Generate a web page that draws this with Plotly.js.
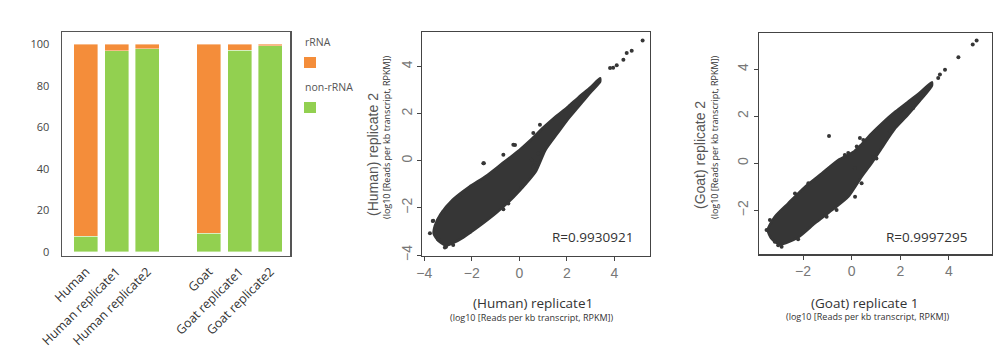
<!DOCTYPE html>
<html>
<head>
<meta charset="utf-8">
<script src="https://cdn.plot.ly/plotly-3.0.1.min.js"></script>
<style>html,body{margin:0;padding:0;background:#fff;}#chart{width:1000px;height:353px;}</style>
</head>
<body>
<div id="chart"></div>
<script>
// ---------- Bar chart data ----------
const humanSamples = ['Human', 'Human replicate1', 'Human replicate2'];
const goatSamples = ['Goat', 'Goat replicate1', 'Goat replicate2'];
const nonRRNA = [7.5, 96.9, 97.7, 9.0, 97.1, 99.2];
const rRNA = [92.5, 3.1, 2.3, 91.0, 2.9, 0.8];
const legendNames = ['rRNA', 'non-rRNA'];

// ---------- Scatter 1 (Human) : dense cloud outline + isolated points ----------
const humanCloudX = [3.4, 3.0, 2.5, 2.0, 1.5, 1.0, 0.5, 0.0, -0.7, -1.4, -2.1, -2.8, -3.3, -3.55, -3.6,
  -3.4, -3.1, -2.8, -2.35, -1.65, -0.95, -0.25, 0.3, 0.7, 1.1, 1.6, 2.0, 2.5, 3.0, 3.4];
const humanCloudY = [3.5, 3.12, 2.7, 2.25, 1.85, 1.4, 0.9, 0.45, -0.1, -0.65, -1.1, -1.65, -2.25, -2.75, -3.1,
  -3.4, -3.6, -3.5, -3.25, -2.75, -2.2, -1.55, -0.95, -0.45, 0.45, 1.15, 1.7, 2.3, 2.9, 3.35];
const humanPtsX = [5.19, 4.73, 4.52, 4.38, 3.82, 3.95, 4.1, 2.13, 0.87, 0.59, -0.25, -0.67, 0.52, 0.73,
  -3.62, -3.76, -3.41, -3.13, -2.78, -2.07, -1.51, -0.67, -0.46, 0.1, 0.66, 0.8, -3.2, -2.49, -0.18, -1.49, 0.59, -3.64, -3.08];
const humanPtsY = [5.1, 4.67, 4.57, 4.29, 3.94, 3.95, 4.05, 2.31, 1.53, 1.18, 0.68, 0.25, 0.04, -0.1,
  -2.55, -3.08, -3.34, -3.68, -3.58, -3.01, -0.11, -2.06, -1.81, -1.1, -0.18, 0.31, -2.17, -1.53, 0.67, -0.11, -0.25, -2.56, -3.65];
const humanR = 'R=0.9930921';

// ---------- Scatter 2 (Goat) ----------
const goatCloudX = [3.3, 2.8, 2.3, 1.8, 1.3, 0.8, 0.4, 0.1, -0.55, -1.23, -1.92, -2.61, -3.16, -3.45,
  -3.3, -2.95, -2.2, -1.51, -0.82, -0.14, 0.41, 0.82, 1.3, 1.8, 2.3, 2.8, 3.3];
const goatCloudY = [3.45, 3.0, 2.6, 2.2, 1.75, 1.25, 0.8, 0.5, 0.14, -0.43, -1.0, -1.7, -2.27, -2.84,
  -3.2, -3.45, -3.15, -2.55, -2.0, -1.42, -0.57, 0.0, 0.75, 1.5, 2.05, 2.65, 3.3];
const goatPtsX = [5.14, 4.98, 4.39, 3.84, 3.63, 3.56, 2.53, -0.93, 0.34, 0.48, 1.16, 1.58, 0.89, 1.02, -0.14, 0.21,
  -3.5, -3.36, -3.16, -3.02, -2.88, -2.2, -2.33, -1.78, -1.03, -0.62, 0.14, 0.41, 0.14, -0.28];
const goatPtsY = [5.22, 5.05, 4.51, 3.98, 3.78, 3.63, 2.35, 1.16, 1.08, 0.99, 1.5, 1.36, 0.26, 0.2, 0.44, 0.72,
  -2.84, -2.41, -3.34, -3.48, -3.55, -3.23, -1.28, -0.85, -2.27, -1.99, -1.42, -0.85, -0.21, 0.35];
const goatR = 'R=0.9997295';

// ---------- Build ----------
const categories = humanSamples.concat(goatSamples);
const positions = [];
[humanSamples, goatSamples].forEach((g, gi) => g.forEach((_, i) => positions.push(gi * (humanSamples.length + 1) + i)));

const orange = '#f48d3a', green = '#92d050', dot = '#363636';

const traces = [
  {type: 'bar', x: positions, y: nonRRNA, name: legendNames[1], marker: {color: green, line: {color: 'rgba(255,255,255,0.5)', width: 0.8}}, width: 0.78, xaxis: 'x', yaxis: 'y', showlegend: false, hoverinfo: 'skip'},
  {type: 'bar', x: positions, y: rRNA, name: legendNames[0], marker: {color: orange, line: {color: 'rgba(255,255,255,0.5)', width: 0.8}}, width: 0.78, xaxis: 'x', yaxis: 'y', showlegend: false, hoverinfo: 'skip'},
  {type: 'scatter', mode: 'lines', x: humanCloudX.concat([humanCloudX[0]]), y: humanCloudY.concat([humanCloudY[0]]), fill: 'toself', fillcolor: dot, line: {color: dot, width: 2.5, shape: 'spline', smoothing: 0.6}, xaxis: 'x2', yaxis: 'y2', showlegend: false},
  {type: 'scatter', mode: 'markers', x: humanPtsX, y: humanPtsY, marker: {color: dot, size: 4}, xaxis: 'x2', yaxis: 'y2', showlegend: false},
  {type: 'scatter', mode: 'lines', x: goatCloudX.concat([goatCloudX[0]]), y: goatCloudY.concat([goatCloudY[0]]), fill: 'toself', fillcolor: dot, line: {color: dot, width: 2.5, shape: 'spline', smoothing: 0.6}, xaxis: 'x3', yaxis: 'y3', showlegend: false},
  {type: 'scatter', mode: 'markers', x: goatPtsX, y: goatPtsY, marker: {color: dot, size: 4}, xaxis: 'x3', yaxis: 'y3', showlegend: false}
];

const scAxis = {showline: true, mirror: true, linecolor: '#444', linewidth: 1.2, ticks: 'outside', ticklen: 4, tickcolor: '#444',
  showgrid: false, zeroline: false, tickfont: {family: 'Liberation Sans, Arial', size: 14, color: '#777'}, dtick: 2, tick0: 0};

const layout = {
  width: 1000, height: 353, margin: {l: 0, r: 0, t: 0, b: 0},
  paper_bgcolor: '#fff', plot_bgcolor: '#fff', barmode: 'stack', bargap: 0.2,
  font: {family: 'Open Sans, sans-serif'},
  xaxis: {domain: [0.062, 0.290], range: [-0.78, 6.64], tickvals: positions, ticktext: categories, tickangle: -45,
    showline: true, mirror: true, linecolor: '#555', linewidth: 1.5, ticks: '', showgrid: false, zeroline: false, ticklabelstandoff: 2,
    tickfont: {family: 'Open Sans, sans-serif', size: 12.5, color: '#333'}},
  yaxis: {domain: [0.275, 0.909], range: [-1.92, 105.8], tickvals: [0, 20, 40, 60, 80, 100],
    showline: true, mirror: true, linecolor: '#555', linewidth: 1.5, ticks: '', showgrid: false, zeroline: false, ticklabelstandoff: 9,
    tickfont: {family: 'Open Sans, sans-serif', size: 11, color: '#444'}},
  xaxis2: Object.assign({}, scAxis, {domain: [0.4223, 0.650], range: [-4.08, 5.50], anchor: 'y2'}),
  yaxis2: Object.assign({}, scAxis, {domain: [0.2756, 0.9085], range: [-4.03, 5.45], anchor: 'x2', tickangle: -90}),
  xaxis3: Object.assign({}, scAxis, {domain: [0.759, 0.9917], range: [-3.81, 5.76], anchor: 'y3'}),
  yaxis3: Object.assign({}, scAxis, {domain: [0.2796, 0.9057], range: [-3.87, 5.53], anchor: 'x3', tickangle: -90}),
  shapes: [
    {type: 'rect', xref: 'paper', yref: 'paper', x0: 0.304, x1: 0.316, y0: 1 - 68 / 353, y1: 1 - 57 / 353, fillcolor: orange, line: {width: 0}},
    {type: 'rect', xref: 'paper', yref: 'paper', x0: 0.304, x1: 0.316, y0: 1 - 113 / 353, y1: 1 - 102 / 353, fillcolor: green, line: {width: 0}}
  ],
  annotations: [
    {xref: 'paper', yref: 'paper', x: 0.303, y: 1 - 42 / 353, xanchor: 'left', yanchor: 'middle', text: legendNames[0], showarrow: false, font: {size: 10.5, color: '#555'}},
    {xref: 'paper', yref: 'paper', x: 0.303, y: 1 - 87 / 353, xanchor: 'left', yanchor: 'middle', text: legendNames[1], showarrow: false, font: {size: 10.5, color: '#555'}},
    // Human scatter titles
    {xref: 'paper', yref: 'paper', x: 373 / 1000, y: 1 - 155 / 353, textangle: -90, xanchor: 'center', yanchor: 'middle', text: '(Human) replicate 2', showarrow: false, font: {family: 'Liberation Sans, Arial', size: 14, color: '#555'}},
    {xref: 'paper', yref: 'paper', x: 386 / 1000, y: 1 - 137 / 353, textangle: -90, xanchor: 'center', yanchor: 'middle', text: '(log10 [Reads per kb transcript, RPKM])', showarrow: false, font: {size: 9, color: '#333'}},
    {xref: 'paper', yref: 'paper', x: 533 / 1000, y: 1 - 303 / 353, xanchor: 'center', yanchor: 'middle', text: '(Human) replicate1', showarrow: false, font: {size: 13.5, color: '#333'}},
    {xref: 'paper', yref: 'paper', x: 532 / 1000, y: 1 - 317 / 353, xanchor: 'center', yanchor: 'middle', text: '(log10 [Reads per kb transcript, RPKM])', showarrow: false, font: {size: 9, color: '#333'}},
    {xref: 'paper', yref: 'paper', x: 592 / 1000, y: 1 - 237 / 353, xanchor: 'center', yanchor: 'middle', text: humanR, showarrow: false, font: {size: 13.5, color: '#333'}},
    // Goat scatter titles
    {xref: 'paper', yref: 'paper', x: 700 / 1000, y: 1 - 155 / 353, textangle: -90, xanchor: 'center', yanchor: 'middle', text: '(Goat) replicate 2', showarrow: false, font: {family: 'Liberation Sans, Arial', size: 14, color: '#555'}},
    {xref: 'paper', yref: 'paper', x: 714 / 1000, y: 1 - 137 / 353, textangle: -90, xanchor: 'center', yanchor: 'middle', text: '(log10 [Reads per kb transcript, RPKM])', showarrow: false, font: {size: 9, color: '#333'}},
    {xref: 'paper', yref: 'paper', x: 864 / 1000, y: 1 - 303 / 353, xanchor: 'center', yanchor: 'middle', text: '(Goat) replicate 1', showarrow: false, font: {size: 13.5, color: '#333'}},
    {xref: 'paper', yref: 'paper', x: 868 / 1000, y: 1 - 316 / 353, xanchor: 'center', yanchor: 'middle', text: '(log10 [Reads per kb transcript, RPKM])', showarrow: false, font: {size: 9, color: '#333'}},
    {xref: 'paper', yref: 'paper', x: 926 / 1000, y: 1 - 237 / 353, xanchor: 'center', yanchor: 'middle', text: goatR, showarrow: false, font: {size: 13.5, color: '#333'}}
  ]
};

Plotly.newPlot('chart', traces, layout, {staticPlot: true, displayModeBar: false});
</script>
</body>
</html>
